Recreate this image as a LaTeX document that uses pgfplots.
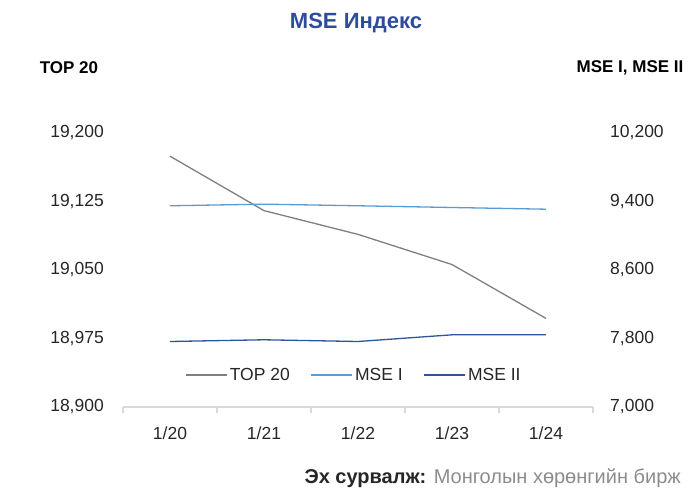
\documentclass[border=0pt]{standalone}
\usepackage{pgfplots}
\pgfplotsset{compat=1.18}
\usepackage{fontspec}
\setmainfont{Liberation Sans}
\definecolor{topgray}{HTML}{7F7F7F}
\definecolor{mseone}{HTML}{5B9BD5}
\definecolor{msetwo}{HTML}{2F5597}
\definecolor{titleblue}{HTML}{2F4C9A}
\definecolor{axisgray}{HTML}{D9D9D9}
\newcommand{\tk}{\fontsize{17.5}{20}\selectfont}
\begin{document}
\begin{tikzpicture}[x=1pt,y=1pt]
\path[use as bounding box] (0,0) rectangle (693,490);
\pgfplotsset{base/.style={
  at={(123pt,83pt)}, anchor=south west,
  width=470pt, height=274pt, scale only axis,
  xmin=-0.5, xmax=4.5,
  scaled y ticks=false,
  yticklabel style={/pgf/number format/fixed, /pgf/number format/precision=0},
  /pgf/number format/assume math mode=true,
  /pgf/number format/1000 sep={,},
  ticklabel style={font=\tk, text=black!85},
  major tick length=0pt,
  legend image code/.code={\draw[##1] (0pt,0pt) -- (41pt,0pt);},
}}
\begin{axis}[base,
  ymin=18900, ymax=19200, ytick={18900,18975,19050,19125,19200},
  axis x line*=bottom, axis y line*=left,
  x axis line style={axisgray, line width=1.2pt, -},
  y axis line style={draw=none},
  xtick={0,1,2,3,4}, xticklabels={1/20,1/21,1/22,1/23,1/24},
  minor xtick={-0.5,0.5,1.5,2.5,3.5,4.5},
  minor tick length=6pt, tick align=outside,
  minor tick style={axisgray, line width=1.2pt},
  xticklabel style={anchor=center, yshift=-26pt},
  yticklabel style={anchor=east, inner sep=0pt, xshift=-19pt},
]
\addplot[topgray, line width=1.3pt] coordinates {(0,19174.6) (1,19115) (2,19089) (3,19056) (4,18997)};
\end{axis}
\begin{axis}[base,
  ymin=7000, ymax=10200, ytick={7000,7800,8600,9400,10200},
  axis x line=none, axis y line*=right,
  y axis line style={draw=none},
  yticklabel style={anchor=west, inner sep=0pt, xshift=17pt},
  legend style={at={(0.4915,0.1168)}, anchor=center, draw=none, fill=none,
    font=\tk, text=black!85, legend columns=3,
    nodes={inner sep=2pt},
    /tikz/every even column/.append style={column sep=19pt}},
]
\addlegendimage{topgray, line width=1.3pt}
\addlegendentry{TOP 20}
\addplot[mseone, line width=1.3pt] coordinates {(0,9350) (1,9369) (2,9350) (3,9330) (4,9310)};
\addlegendentry{MSE I}
\addplot[msetwo, line width=1.3pt] coordinates {(0,7765) (1,7785) (2,7765) (3,7843) (4,7843)};
\addlegendentry{MSE II}
\end{axis}
\node[font=\fontsize{22}{26}\selectfont\bfseries, text=titleblue] at (356,467) {MSE Индекс};
\node[font=\fontsize{17}{20}\selectfont\bfseries] at (69,422) {TOP 20};
\node[font=\fontsize{17}{20}\selectfont\bfseries] at (630,422) {MSE I, MSE II};
\node[anchor=east, font=\fontsize{20}{22}\selectfont, inner sep=0pt] at (681,12) {{\color{black!85}\bfseries Эх сурвалж:} {\color{black!45}Монголын хөрөнгийн бирж}};
\end{tikzpicture}
\end{document}
